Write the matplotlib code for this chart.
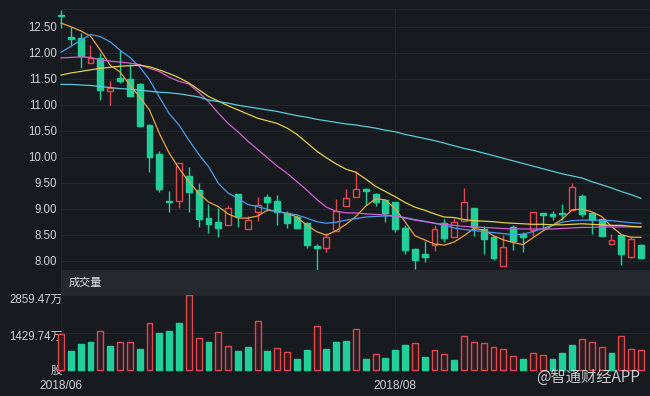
import numpy as np
import matplotlib
matplotlib.use('Agg')
import matplotlib.pyplot as plt
from matplotlib.patches import Rectangle
from matplotlib.transforms import ScaledTranslation

# Daily candles (price)
opens = [12.73, 12.31, 12.29, 11.81, 11.89, 11.26, 11.51, 11.49, 11.40, 10.61,
         10.05, 9.15, 9.14, 9.63, 9.36, 8.82, 8.75, 8.69, 9.28, 8.60,
         8.94, 9.23, 9.14, 8.92, 8.85, 8.72, 8.29, 8.24, 8.58, 9.06,
         9.23, 9.38, 9.28, 9.17, 9.12, 8.63, 8.22, 8.12, 8.30, 8.72,
         8.46, 8.77, 9.01, 8.61, 8.45, 7.90, 8.64, 8.51, 8.59, 8.91,
         8.90, 8.92, 8.98, 9.24, 8.91, 8.80, 8.32, 8.49, 8.07, 8.30]
closes = [12.70, 12.27, 11.94, 11.89, 11.28, 11.33, 11.46, 11.17, 10.59, 10.00,
          9.37, 9.12, 9.87, 9.33, 8.80, 8.71, 8.63, 9.01, 8.86, 8.78,
          9.07, 9.12, 8.93, 8.73, 8.63, 8.30, 8.24, 8.45, 8.96, 9.21,
          9.37, 9.34, 9.13, 8.91, 8.61, 8.21, 8.01, 8.08, 8.60, 8.43,
          8.74, 9.12, 8.64, 8.42, 8.05, 8.27, 8.37, 8.45, 8.93, 8.88,
          8.86, 8.89, 9.41, 8.90, 8.78, 8.48, 8.40, 8.13, 8.41, 8.05]
highs = [12.83, 12.49, 12.37, 12.15, 11.99, 11.46, 12.05, 11.78, 11.42, 10.62,
         10.11, 9.34, 9.88, 9.80, 9.50, 9.10, 9.01, 9.07, 9.29, 8.86,
         9.23, 9.28, 9.26, 8.96, 8.88, 8.74, 8.33, 8.53, 9.18, 9.37,
         9.73, 9.39, 9.31, 9.18, 9.13, 8.69, 8.24, 8.37, 8.69, 8.80,
         8.82, 9.39, 9.02, 8.67, 8.47, 8.49, 8.69, 8.56, 8.94, 8.92,
         8.96, 9.09, 9.49, 9.28, 8.92, 8.81, 8.51, 8.50, 8.48, 8.32]
lows = [12.47, 12.15, 11.70, 11.80, 11.10, 10.99, 11.42, 11.14, 10.58, 9.71,
        9.33, 8.94, 9.01, 8.94, 8.65, 8.54, 8.46, 8.68, 8.65, 8.60,
        8.76, 8.98, 8.69, 8.63, 8.60, 8.24, 7.83, 8.17, 8.57, 9.05,
        9.22, 9.08, 9.05, 8.75, 8.56, 8.13, 7.84, 7.98, 8.19, 8.35,
        8.45, 8.76, 8.48, 8.13, 8.01, 7.89, 8.21, 8.17, 8.48, 8.60,
        8.78, 8.78, 8.97, 8.85, 8.51, 8.47, 8.31, 7.92, 8.06, 8.04]

# Moving averages
ma5 = [12.57, 12.50, 12.42, 12.32, 12.05, 11.76, 11.63, 11.38, 11.15, 10.90,
       10.45, 10.07, 9.78, 9.52, 9.30, 9.13, 9.04, 8.90, 8.82, 8.82,
       8.86, 8.97, 8.95, 8.91, 8.84, 8.68, 8.56, 8.49, 8.58, 8.70,
       8.85, 9.05, 9.19, 9.17, 9.00, 8.75, 8.48, 8.40, 8.32, 8.30,
       8.36, 8.48, 8.62, 8.59, 8.48, 8.40, 8.35, 8.31, 8.44, 8.57,
       8.68, 8.80, 8.98, 8.99, 8.94, 8.85, 8.66, 8.50, 8.45, 8.45]
ma10 = [12.01, 12.12, 12.24, 12.35, 12.31, 12.21, 12.05, 11.91, 11.73, 11.48,
        11.15, 10.83, 10.61, 10.32, 10.05, 9.81, 9.49, 9.30, 9.20, 9.08,
        9.04, 8.99, 8.94, 8.91, 8.88, 8.82, 8.75, 8.72, 8.74, 8.78,
        8.81, 8.84, 8.85, 8.86, 8.86, 8.83, 8.79, 8.76, 8.72, 8.68,
        8.63, 8.60, 8.58, 8.56, 8.54, 8.52, 8.50, 8.51, 8.56, 8.62,
        8.68, 8.74, 8.77, 8.78, 8.78, 8.78, 8.77, 8.75, 8.73, 8.72]
ma20 = [11.90, 11.91, 11.92, 11.91, 11.86, 11.84, 11.82, 11.80, 11.77, 11.70,
        11.64, 11.53, 11.45, 11.40, 11.24, 11.06, 10.84, 10.64, 10.48, 10.30,
        10.14, 9.98, 9.82, 9.68, 9.52, 9.36, 9.18, 9.03, 8.95, 8.92,
        8.92, 8.90, 8.89, 8.88, 8.86, 8.82, 8.78, 8.75, 8.72, 8.70,
        8.68, 8.66, 8.65, 8.64, 8.63, 8.62, 8.61, 8.61, 8.61, 8.61,
        8.61, 8.62, 8.63, 8.64, 8.64, 8.65, 8.65, 8.65, 8.65, 8.65]
ma30 = [11.57, 11.61, 11.64, 11.67, 11.70, 11.72, 11.74, 11.75, 11.76, 11.73,
        11.67, 11.60, 11.52, 11.42, 11.29, 11.16, 11.07, 10.98, 10.90, 10.82,
        10.74, 10.69, 10.64, 10.55, 10.43, 10.27, 10.11, 9.98, 9.86, 9.76,
        9.70, 9.57, 9.43, 9.33, 9.23, 9.12, 9.03, 8.97, 8.90, 8.84,
        8.83, 8.79, 8.77, 8.76, 8.75, 8.73, 8.72, 8.71, 8.70, 8.70,
        8.69, 8.69, 8.70, 8.71, 8.70, 8.69, 8.68, 8.68, 8.66, 8.65]
ma60 = [11.39, 11.39, 11.38, 11.37, 11.35, 11.33, 11.31, 11.30, 11.28, 11.26,
        11.24, 11.23, 11.21, 11.18, 11.15, 11.09, 11.06, 11.03, 10.99, 10.96,
        10.93, 10.90, 10.87, 10.83, 10.79, 10.76, 10.72, 10.69, 10.66, 10.63,
        10.61, 10.58, 10.55, 10.51, 10.48, 10.43, 10.39, 10.35, 10.31, 10.26,
        10.21, 10.16, 10.12, 10.07, 10.02, 9.97, 9.92, 9.87, 9.82, 9.77,
        9.72, 9.67, 9.63, 9.59, 9.52, 9.46, 9.40, 9.33, 9.27, 9.20]

# Volume (万股) and bar direction as shown (1 = red/up, 0 = green/down)
volumes = [1378, 744, 999, 1075, 1504, 923, 1086, 1063, 797, 1785,
           1428, 1492, 1785, 2859.47, 1215, 1086, 1443, 911, 721, 896,
           1861, 744, 858, 695, 429, 771, 1682, 809, 1075, 1124,
           1557, 418, 619, 467, 771, 961, 1037, 494, 760, 619,
           391, 1291, 1063, 1037, 885, 809, 532, 418, 657, 592,
           440, 657, 949, 1177, 1063, 885, 657, 1302, 809, 771]
vol_up = [1, 0, 0, 0, 1, 0, 1, 1, 0, 1,
          0, 0, 0, 1, 1, 0, 1, 1, 0, 0,
          1, 0, 1, 1, 0, 0, 1, 0, 0, 0,
          1, 0, 1, 0, 0, 0, 1, 0, 1, 1,
          0, 1, 1, 1, 1, 1, 1, 0, 1, 1,
          0, 0, 0, 1, 1, 1, 0, 1, 1, 1]

price_ticks = [8.0, 8.5, 9.0, 9.5, 10.0, 10.5, 11.0, 11.5, 12.0, 12.5]
date_ticks = [0, 34]
date_labels = ['2018/06', '2018/08']
vol_ticks = [0, 1429.735, 2859.47]
vol_labels = ['股', '1429.74万', '2859.47万']

# Colours
BG = '#171b20'
GRID = '#22272d'
BAND = '#25282d'
TXT = '#cfd1d4'
RED = '#e0484d'
GREEN = '#22cf98'
MA_COLORS = ['#eaa246', '#4c9be8', '#d35fd4', '#e2cf4a', '#5ccad8']

FONTS = ['Liberation Sans', 'Noto Sans CJK SC', 'DejaVu Sans']
plt.rcParams['font.family'] = FONTS

W, H = 650, 396
fig = plt.figure(figsize=(W / 100, H / 100), dpi=100, facecolor=BG)

x = np.arange(len(opens))
o = np.array(opens)
c = np.array(closes)
up = c >= o
n_span = 589 / 9.83

# ---- price panel ----
ax = fig.add_axes([61 / W, (H - 270) / H, 589 / W, 261 / H], facecolor=BG)
ax.set_xlim(0, n_span)
ax.set_ylim(7.821, 12.841)

wick_col = [RED if u else GREEN for u in up]
ax.vlines(x, lows, highs, colors=wick_col, lw=1, zorder=2, clip_on=False)
body_bot = np.minimum(o, c)
body_h = np.maximum(np.abs(c - o), 0.015)
ax.bar(x, body_h, bottom=body_bot, width=0.6,
       facecolor=[BG if u else GREEN for u in up],
       edgecolor=wick_col, lw=1, zorder=3, clip_on=False)

for ma, col in zip([ma5, ma10, ma20, ma30, ma60], MA_COLORS):
    ax.plot(x, ma, color=col, lw=0.9, zorder=4, clip_on=False)

ax.set_yticks(price_ticks)
ax.set_yticklabels(['%.2f' % t for t in price_ticks])
ax.set_xticks(date_ticks)
ax.tick_params(axis='both', length=0, colors=TXT, labelsize=8.3)
ax.tick_params(axis='y', pad=3)
ax.tick_params(axis='x', labelbottom=False)
ax.grid(True, color=GRID, lw=0.8)
ax.set_axisbelow(True)
for side in ['right', 'bottom', 'left']:
    ax.spines[side].set_visible(False)
ax.spines['top'].set_color(GRID)

# ---- volume header band ----
fig.add_artist(Rectangle((61 / W, (H - 295) / H), 589 / W, 25 / H,
                         transform=fig.transFigure, color=BAND, lw=0))
fig.text(69 / W, 1 - 283 / H, '成交量', color='#e6e6e6', fontsize=8,
         ha='left', va='center', family=['Noto Sans CJK SC'])

# ---- volume panel ----
axv = fig.add_axes([61 / W, (H - 370.3) / H, 589 / W, 75.3 / H], facecolor=BG)
axv.set_xlim(0, n_span)
axv.set_ylim(0, vol_ticks[-1])
axv.bar(x, volumes, width=0.6,
        facecolor=['#2c1c20' if u else GREEN for u in vol_up],
        edgecolor=[RED if u else GREEN for u in vol_up],
        lw=1, zorder=3, clip_on=False)

axv.set_yticks(vol_ticks)
axv.set_yticklabels(vol_labels)
axv.set_xticks(date_ticks)
axv.set_xticklabels(date_labels)
axv.tick_params(axis='both', length=0, colors=TXT, labelsize=8.3)
axv.tick_params(axis='y', pad=-1)
axv.tick_params(axis='x', pad=7, labelsize=8.6)
# labels sit a little below their gridlines, as in the app
for lab, dy in zip(axv.get_yticklabels(), [0.5, -3, -3]):
    lab.set_transform(lab.get_transform() + ScaledTranslation(0, dy / 100, fig.dpi_scale_trans))
axv.grid(True, color=GRID, lw=0.8)
axv.set_axisbelow(True)
for side in axv.spines:
    axv.spines[side].set_visible(False)

# watermark
fig.text(640 / W, 1 - 377 / H, '@智通财经APP', color='#e8e8e8', alpha=0.85,
         fontsize=11, ha='right', va='center', family=['Noto Sans CJK SC'])

fig.savefig('out.png', dpi=100, facecolor=BG)
